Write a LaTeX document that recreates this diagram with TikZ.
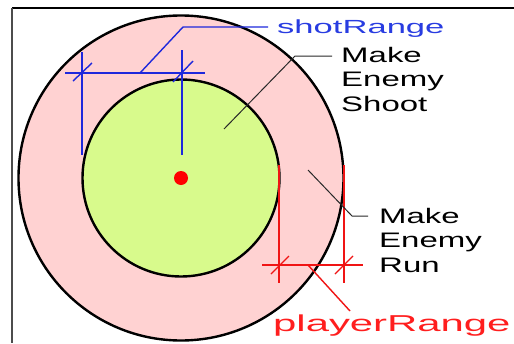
\documentclass[tikz,border=0pt]{standalone}
\usepackage{fontspec}
\newfontfamily\lblfont[FakeStretch=1.57]{Liberation Sans}
\newfontfamily\rngfont[FakeStretch=1.82]{Liberation Sans}
\definecolor{pinkfill}{RGB}{255,210,210}
\definecolor{greenfill}{RGB}{216,250,140}
\definecolor{dimblue}{RGB}{30,40,220}
\definecolor{txtblue}{RGB}{40,60,225}
\definecolor{dimred}{RGB}{240,20,20}
\definecolor{txtred}{RGB}{255,30,30}
\definecolor{leadgray}{RGB}{40,40,40}
\begin{document}
\begin{tikzpicture}[x=1pt,y=-1pt,
  zone/.style={circle,draw=black,line width=2.4pt,inner sep=0pt,outer sep=0pt},
  dimb/.style={draw=dimblue,line width=1.4pt},
  dimr/.style={draw=dimred,line width=1.4pt},
  leader/.style={draw=leadgray,line width=1pt},
  zonelbl/.style={anchor=north west,inner sep=0pt,align=left,text=black,
    font=\lblfont\fontsize{21}{24.5}\selectfont},
  rnglbl/.style={anchor=base west,inner sep=0pt}]
\useasboundingbox (0,0) rectangle (514,343);
\fill[white] (0,0) rectangle (514,343);
% frame
\draw[black,line width=2pt] (12,8) -- (514,8);
\draw[black!70,line width=2.5pt] (12,8) -- (12,343);
% zones
\node[zone,fill=pinkfill,minimum size=325pt] (outer) at (181,178) {};
\node[zone,fill=greenfill,minimum size=197pt] (inner) at (181,178) {};
\node[circle,fill=red,inner sep=0pt,minimum size=14pt] (player) at (181,178) {};
% labels
\node[rnglbl,text=txtblue,font=\rngfont\fontsize{19}{19}\selectfont] (shot) at (277,33) {shotRange};
\node[rnglbl,text=txtred,font=\rngfont\fontsize{23}{23}\selectfont] (prange) at (273,331) {playerRange};
\node[zonelbl] (shoot) at (341,47) {Make\\Enemy\\Shoot};
\node[zonelbl] (run) at (379,208) {Make\\Enemy\\Run};
% shotRange dimension
\coordinate (sb1) at (65,73); \coordinate (sb2) at (205,73);
\draw[dimb] (sb1) -- (sb2);
\draw[dimb] (82,52) -- (82,155);
\draw[dimb] (182,50) -- (182,155);
\draw[dimb] (73,81) -- (92,63);
\draw[dimb] (173,82) -- (193,61);
\coordinate (sl1) at (140,73); \coordinate (sl2) at (183,27); \coordinate (sl3) at (268,27);
\draw[dimb] (sl1) -- (sl2) -- (sl3);
% playerRange dimension
\draw[dimr] (279,165) -- (279,283);
\draw[dimr] (344,165) -- (344,283);
\draw[dimr] (262,265) -- (363,265);
\draw[dimr] (271,274) -- (289,256);
\draw[dimr] (335,274) -- (353,256);
\coordinate (pl1) at (308,265); \coordinate (pl2) at (350,311);
\draw[dimr] (pl1) -- (pl2);
% zone leaders
\coordinate (ls1) at (224,129); \coordinate (ls2) at (295,56); \coordinate (ls3) at (332,56);
\draw[leader] (ls1) -- (ls2) -- (ls3);
\coordinate (lr1) at (308,170); \coordinate (lr2) at (352,216); \coordinate (lr3) at (368,216);
\draw[leader] (lr1) -- (lr2) -- (lr3);
\end{tikzpicture}
\end{document}
